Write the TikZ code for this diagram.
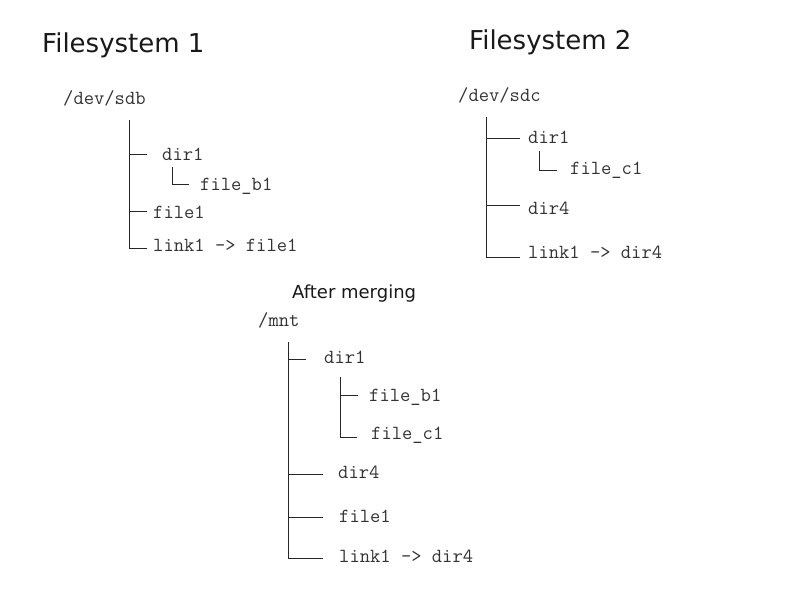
\documentclass[tikz,border=0pt]{standalone}
\usepackage{fontspec}
\setmainfont{DejaVu Sans}
\begin{document}
\begin{tikzpicture}[x=1pt,y=-1pt,
  title/.style={anchor=base west,inner sep=0pt,font=\fontsize{26}{30}\selectfont,text=black!90},
  sub/.style={anchor=base west,inner sep=0pt,font=\fontsize{18}{21}\selectfont,text=black!90},
  mono/.style={anchor=base west,inner sep=0pt,font=\ttfamily\fontsize{20}{22}\selectfont,text=black!80},
  tline/.style={draw=black!85,line width=0.9pt}]
\useasboundingbox (0,0) rectangle (800,600);
% Titles
\node[title] (fs1) at (42,52) {Filesystem 1};
\node[title] (fs2) at (469,49) {Filesystem 2};
\node[sub] (am) at (292,298) {After merging};
% Tree 1
\node[mono] (r1) at (63,104) {/dev/sdb};
\coordinate (t1) at (129,120);
\coordinate (t1b) at (129,248);
\node[mono] (a1) at (162,160) {dir1};
\node[mono] (a2) at (200,190) {file\_b1};
\node[mono] (a3) at (153,218) {file1};
\node[mono] (a4) at (153,251) {link1 -> file1};
\coordinate (s1) at (172,167);
\draw[tline] (t1) -- (t1b) -- (147,248);
\draw[tline] (129,154) -- (147,154);
\draw[tline] (129,211) -- (147,211);
\draw[tline] (s1) -- (172,184) -- (189,184);
% Tree 2
\node[mono] (r2) at (458,101) {/dev/sdc};
\coordinate (t2) at (486,117);
\coordinate (t2b) at (486,257);
\node[mono] (b1) at (528,143) {dir1};
\node[mono] (b2) at (570,174) {file\_c1};
\node[mono] (b3) at (528,214) {dir4};
\node[mono] (b4) at (528,258) {link1 -> dir4};
\coordinate (s2) at (539,151);
\draw[tline] (t2) -- (t2b) -- (520,257);
\draw[tline] (486,138) -- (520,138);
\draw[tline] (486,205) -- (520,205);
\draw[tline] (s2) -- (539,170) -- (557,170);
% Tree 3
\node[mono] (r3) at (258,326) {/mnt};
\coordinate (t3) at (288,342);
\coordinate (t3b) at (288,558);
\node[mono] (c1) at (324,363) {dir1};
\node[mono] (c2) at (369,401) {file\_b1};
\node[mono] (c3) at (371,439) {file\_c1};
\node[mono] (c4) at (338,478) {dir4};
\node[mono] (c5) at (339,522) {file1};
\node[mono] (c6) at (339,562) {link1 -> dir4};
\coordinate (s3) at (340,377);
\coordinate (s3b) at (340,437);
\draw[tline] (t3) -- (t3b) -- (323,558);
\draw[tline] (288,359) -- (306,359);
\draw[tline] (288,474) -- (323,474);
\draw[tline] (288,517) -- (323,517);
\draw[tline] (s3) -- (s3b) -- (357,437);
\draw[tline] (340,395) -- (358,395);
\end{tikzpicture}
\end{document}
